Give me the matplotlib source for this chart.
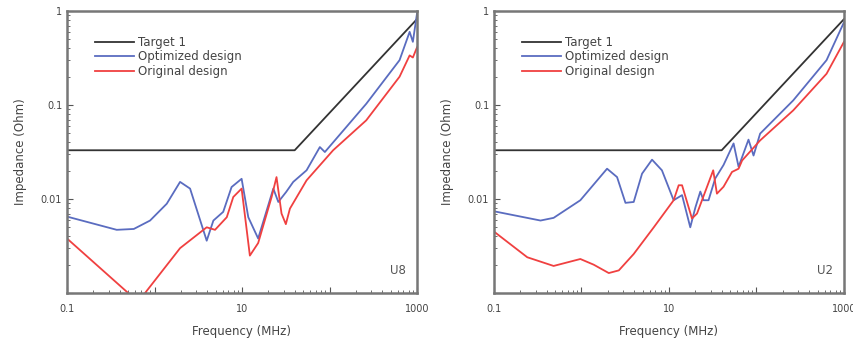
import matplotlib.pyplot as plt
from matplotlib.ticker import LogLocator, FuncFormatter, NullFormatter

# Target impedance mask (same on both panels)
target_f = [0.1, 40, 1000]
target_z = [0.033, 0.033, 0.82]

# U8 panel
u8_opt_f = [0.1, 0.37, 0.58, 0.89, 1.38, 1.96, 2.55, 3.95, 4.71, 6.1, 7.6, 9.9,
            11.8, 15.3, 22.8, 26, 32, 38.5, 54.7, 77.6, 88.5, 263, 632, 824, 897, 1000]
u8_opt_z = [0.0065, 0.0047, 0.0048, 0.0059, 0.0089, 0.0152, 0.0129, 0.0036, 0.0059,
            0.0073, 0.0134, 0.0164, 0.0064, 0.0038, 0.0129, 0.0093, 0.0119, 0.0152,
            0.0202, 0.0357, 0.0316, 0.103, 0.30, 0.6, 0.47, 0.94]
u8_orig_f = [0.1, 0.5, 0.65, 0.78, 1.96, 3.95, 4.92, 6.7, 7.95, 9.9, 12.3, 15.3,
             21.8, 24.8, 28.3, 31.7, 35.3, 54.7, 110, 263, 632, 824, 897, 1000]
u8_orig_z = [0.0038, 0.001, 0.0008, 0.001, 0.0030, 0.005, 0.0047, 0.0064, 0.0105,
             0.0129, 0.0025, 0.0034, 0.0105, 0.0171, 0.007, 0.0054, 0.0079, 0.0158,
             0.033, 0.0687, 0.2, 0.337, 0.32, 0.41]

# U2 panel
u2_opt_f = [0.1, 0.34, 0.48, 0.97, 1.96, 2.55, 3.18, 3.95, 4.92, 6.4, 8.3, 11.3,
            14.1, 17.5, 20, 22.8, 24.8, 28.3, 33.7, 42, 54.7, 62.4, 81, 92.5, 110,
            263, 632, 1000]
u2_opt_z = [0.0074, 0.0059, 0.0063, 0.0097, 0.021, 0.0171, 0.0091, 0.0093, 0.0186,
            0.0262, 0.0202, 0.0097, 0.011, 0.005, 0.0081, 0.012, 0.0097, 0.0097,
            0.0165, 0.023, 0.039, 0.022, 0.0428, 0.029, 0.0496, 0.112, 0.30, 0.76]
u2_orig_f = [0.1, 0.24, 0.48, 0.97, 1.38, 2.05, 2.67, 3.95, 6.7, 11.3, 12.9, 14.1,
             18.3, 20.9, 32, 35.3, 42, 52.5, 62.4, 68.5, 110, 263, 632, 1000]
u2_orig_z = [0.0045, 0.0024, 0.00194, 0.0023, 0.0020, 0.00163, 0.00174, 0.0026,
             0.005, 0.0097, 0.014, 0.014, 0.0062, 0.007, 0.0202, 0.0114, 0.0135,
             0.0194, 0.021, 0.0257, 0.042, 0.0877, 0.215, 0.47]

panels = [('U8', u8_opt_f, u8_opt_z, u8_orig_f, u8_orig_z),
          ('U2', u2_opt_f, u2_opt_z, u2_orig_f, u2_orig_z)]

grey = '#555555'
fig = plt.figure(figsize=(8.54, 3.38), dpi=100)
lefts = [67 / 854, 494 / 854]

for left, (name, of, oz, rf, rz) in zip(lefts, panels):
    ax = fig.add_axes([left, 45 / 338, 350 / 854, 282 / 338])
    ax.plot(target_f, target_z, color='#333333', lw=1.3, label='Target 1')
    ax.plot(of, oz, color='#5a6cc0', lw=1.3, label='Optimized design')
    ax.plot(rf, rz, color='#f04040', lw=1.3, label='Original design')
    ax.set_xscale('log')
    ax.set_yscale('log')
    ax.set_xlim(0.1, 1000)
    ax.set_ylim(0.001, 1)

    ax.xaxis.set_major_locator(LogLocator(base=10, numticks=10))
    ax.xaxis.set_major_formatter(FuncFormatter(
        lambda v, p: {0.1: '0.1', 10: '10', 1000: '1000'}.get(round(v, 3), '')))
    ax.xaxis.set_minor_locator(LogLocator(base=10, subs=range(2, 10), numticks=20))
    ax.xaxis.set_minor_formatter(NullFormatter())
    ax.yaxis.set_major_locator(LogLocator(base=10, numticks=10))
    ax.yaxis.set_major_formatter(FuncFormatter(
        lambda v, p: {1: '1', 0.1: '0.1', 0.01: '0.01'}.get(round(v, 4), '')))
    ax.yaxis.set_minor_locator(LogLocator(base=10, subs=range(2, 10), numticks=20))
    ax.yaxis.set_minor_formatter(NullFormatter())

    ax.tick_params(which='both', direction='in', colors=grey, labelsize=7,
                   labelcolor='#444444')
    ax.tick_params(which='major', length=4)
    ax.tick_params(which='minor', length=2)
    ax.tick_params(axis='x', which='major', pad=8)
    for s in ax.spines.values():
        s.set_color('#777777')
        s.set_linewidth(1.8)

    ax.set_xlabel('Frequency (MHz)', fontsize=8.5, color='#444444', labelpad=8)
    ax.set_ylabel('Impedance (Ohm)', fontsize=8.5, color='#444444', labelpad=10)
    ax.legend(loc='upper left', bbox_to_anchor=(0.05, 0.95), frameon=False,
              fontsize=8.5, handlelength=3.3, handletextpad=0.3, labelspacing=0.15,
              labelcolor='#444444')
    ax.text(0.945, 0.055, name, transform=ax.transAxes, fontsize=8.5,
            color='#555555', ha='center', va='bottom')

fig.savefig('out.png', dpi=100)
